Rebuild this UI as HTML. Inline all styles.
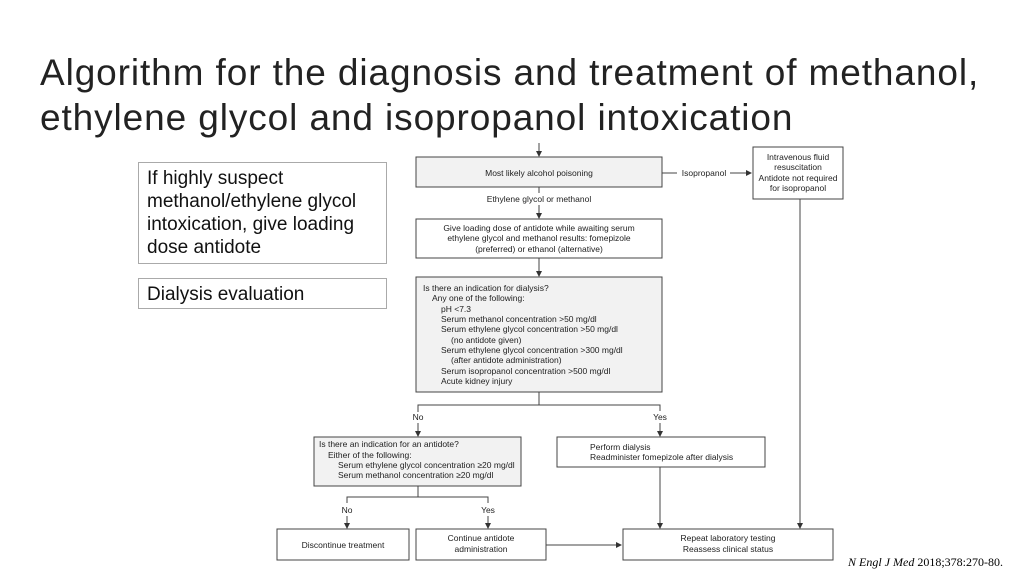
<!DOCTYPE html>
<html><head><meta charset="utf-8"><style>
body{margin:0;width:1024px;height:576px;background:#fff;overflow:hidden;position:relative;font-family:"Liberation Sans",sans-serif}
.t{position:absolute;left:40px;top:50px;font-size:37px;line-height:45px;color:#222;letter-spacing:0.9px;white-space:nowrap}
.lb{position:absolute;border:1px solid #aaa;font-size:19px;line-height:23px;padding:4px 8px;box-sizing:border-box;color:#111}
.cite{position:absolute;left:848px;top:555px;font-family:"Liberation Serif",serif;font-size:12px}
</style></head><body>
<div class="t">Algorithm for the diagnosis and treatment of methanol,<br>ethylene glycol and isopropanol intoxication</div>
<div class="lb" style="left:138px;top:162px;width:249px;height:102px">If highly suspect methanol/ethylene glycol intoxication, give loading dose antidote</div>
<div class="lb" style="left:138px;top:278px;width:249px;height:31px">Dialysis evaluation</div>
<svg style="position:absolute;left:0;top:0" width="1024" height="576" font-family="Liberation Sans,sans-serif" font-size="8.5" fill="#222">
<defs><marker id="a" markerWidth="6" markerHeight="6" refX="5" refY="3" orient="auto"><path d="M0,0L6,3L0,6z" fill="#333"/></marker></defs>
<g stroke="#444" stroke-width="1" fill="none">
<line x1="539" y1="143" x2="539" y2="156" marker-end="url(#a)"/>
<rect x="416" y="157" width="246" height="30" fill="#f2f2f2"/>
<line x1="662" y1="173" x2="677" y2="173"/>
<line x1="730" y1="173" x2="751" y2="173" marker-end="url(#a)"/>
<rect x="753" y="147" width="90" height="52" fill="#fff"/>
<line x1="539" y1="187" x2="539" y2="193"/>
<line x1="539" y1="205" x2="539" y2="218" marker-end="url(#a)"/>
<rect x="416" y="219" width="246" height="39" fill="#fff"/>
<line x1="539" y1="258" x2="539" y2="276" marker-end="url(#a)"/>
<rect x="416" y="277" width="246" height="115" fill="#f2f2f2"/>
<line x1="539" y1="392" x2="539" y2="405"/>
<polyline points="418,412 418,405 660,405 660,411"/>
<line x1="418" y1="423" x2="418" y2="436" marker-end="url(#a)"/>
<line x1="660" y1="423" x2="660" y2="436" marker-end="url(#a)"/>
<rect x="314" y="437" width="207" height="49" fill="#f2f2f2"/>
<rect x="557" y="437" width="208" height="30" fill="#fff"/>
<line x1="418" y1="486" x2="418" y2="497"/>
<polyline points="347,503 347,497 488,497 488,503"/>
<line x1="347" y1="516" x2="347" y2="528" marker-end="url(#a)"/>
<line x1="488" y1="516" x2="488" y2="528" marker-end="url(#a)"/>
<line x1="660" y1="467" x2="660" y2="528" marker-end="url(#a)"/>
<line x1="800" y1="199" x2="800" y2="528" marker-end="url(#a)"/>
<rect x="277" y="529" width="132" height="31" fill="#fff"/>
<rect x="416" y="529" width="130" height="31" fill="#fff"/>
<line x1="546" y1="545" x2="621" y2="545" marker-end="url(#a)"/>
<rect x="623" y="529" width="210" height="31" fill="#fff"/>
</g>
<g text-anchor="middle">
<text x="539" y="176">Most likely alcohol poisoning</text>
<text x="704" y="176">Isopropanol</text>
<text x="798" y="160">Intravenous fluid</text>
<text x="798" y="170">resuscitation</text>
<text x="798" y="181">Antidote not required</text>
<text x="798" y="191">for isopropanol</text>
<text x="539" y="202">Ethylene glycol or methanol</text>
<text x="539" y="231">Give loading dose of antidote while awaiting serum</text>
<text x="539" y="241">ethylene glycol and methanol results: fomepizole</text>
<text x="539" y="252">(preferred) or ethanol (alternative)</text>
<text x="418" y="420">No</text>
<text x="660" y="420">Yes</text>
<text x="347" y="513">No</text>
<text x="488" y="513">Yes</text>
<text x="343" y="548">Discontinue treatment</text>
<text x="481" y="541">Continue antidote</text>
<text x="481" y="552">administration</text>
<text x="728" y="541">Repeat laboratory testing</text>
<text x="728" y="552">Reassess clinical status</text>
</g>
<text x="423" y="291">Is there an indication for dialysis?</text>
<text x="432" y="301">Any one of the following:</text>
<text x="441" y="312">pH &lt;7.3</text>
<text x="441" y="322">Serum methanol concentration &gt;50 mg/dl</text>
<text x="441" y="332">Serum ethylene glycol concentration &gt;50 mg/dl</text>
<text x="451" y="343">(no antidote given)</text>
<text x="441" y="353">Serum ethylene glycol concentration &gt;300 mg/dl</text>
<text x="451" y="363">(after antidote administration)</text>
<text x="441" y="374">Serum isopropanol concentration &gt;500 mg/dl</text>
<text x="441" y="384">Acute kidney injury</text>
<text x="319" y="447">Is there an indication for an antidote?</text>
<text x="328" y="458">Either of the following:</text>
<text x="338" y="468">Serum ethylene glycol concentration ≥20 mg/dl</text>
<text x="338" y="478">Serum methanol concentration ≥20 mg/dl</text>
<text x="590" y="450">Perform dialysis</text>
<text x="590" y="460">Readminister fomepizole after dialysis</text>
</svg>
<div class="cite"><i>N Engl J Med</i> 2018;378:270-80.</div>
</body></html>
